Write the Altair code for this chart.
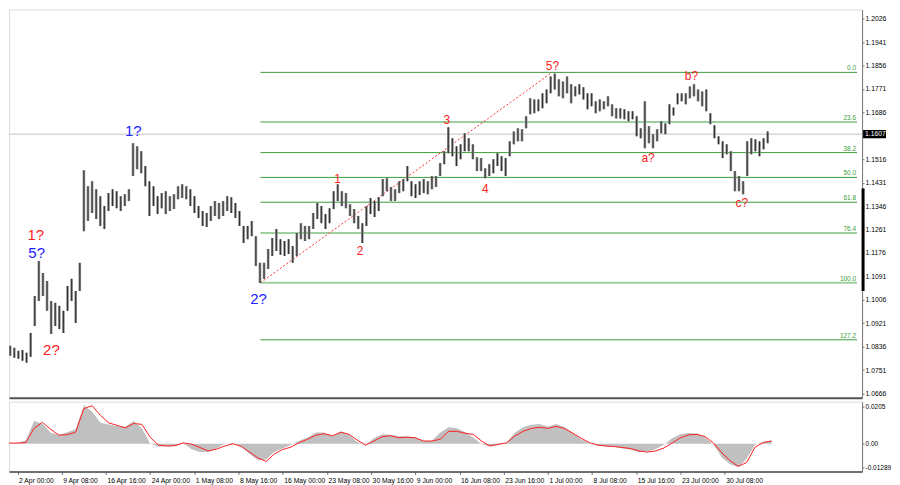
import altair as alt
import pandas as pd

# ---------------- price bars: one bar per 3 H4 candles (high / low) ----------------
BAR_STEP = 3
bar_high = [
    1.0846, 1.0839, 1.0832, 1.0821, 1.0824, 1.0814, 1.0886, 1.1020, 1.1147, 1.1103,
    1.1074, 1.1002, 1.0995, 1.0984, 1.0966, 1.1056, 1.1082, 1.1038, 1.1140, 1.1476,
    1.1418, 1.1436, 1.1407, 1.1382, 1.1346, 1.1393, 1.1407, 1.1400, 1.1382, 1.1389,
    1.1407, 1.1574, 1.1563, 1.1545, 1.1491, 1.1436, 1.1418, 1.1382, 1.1393, 1.1400,
    1.1382, 1.1389, 1.1418, 1.1425, 1.1418, 1.1407, 1.1382, 1.1346, 1.1328, 1.1321,
    1.1346, 1.1364, 1.1357, 1.1364, 1.1382, 1.1378, 1.1357, 1.1328, 1.1274, 1.1274,
    1.1292, 1.1237, 1.1140, 1.1140, 1.1190, 1.1230, 1.1263, 1.1226, 1.1219, 1.1226,
    1.1201, 1.1248, 1.1284, 1.1274, 1.1274, 1.1321, 1.1357, 1.1346, 1.1317, 1.1338,
    1.1400, 1.1425, 1.1400, 1.1393, 1.1353, 1.1335, 1.1310, 1.1284, 1.1346, 1.1375,
    1.1364, 1.1378, 1.1444, 1.1447, 1.1415, 1.1407, 1.1436, 1.1444, 1.1491, 1.1436,
    1.1425, 1.1436, 1.1444, 1.1436, 1.1455, 1.1455, 1.1502, 1.1545, 1.1632, 1.1592,
    1.1563, 1.1570, 1.1610, 1.1592, 1.1570, 1.1523, 1.1520, 1.1483, 1.1498, 1.1516,
    1.1538, 1.1527, 1.1520, 1.1581, 1.1617, 1.1628, 1.1625, 1.1672, 1.1737, 1.1733,
    1.1733, 1.1755, 1.1769, 1.1816, 1.1827, 1.1806, 1.1798, 1.1816, 1.1788, 1.1780,
    1.1788, 1.1777, 1.1755, 1.1755, 1.1726, 1.1733, 1.1726, 1.1744, 1.1715, 1.1701,
    1.1701, 1.1697, 1.1690, 1.1690, 1.1672, 1.1628, 1.1726, 1.1636, 1.1607, 1.1625,
    1.1654, 1.1646, 1.1715, 1.1704, 1.1755, 1.1755, 1.1755, 1.1780, 1.1788, 1.1769,
    1.1762, 1.1769, 1.1683, 1.1639, 1.1599, 1.1581, 1.1570, 1.1545, 1.1473, 1.1455,
    1.1436, 1.1581, 1.1592, 1.1588, 1.1581, 1.1592, 1.1617,
]
bar_low = [
    1.0814, 1.0803, 1.0796, 1.0792, 1.0785, 1.0778, 1.0799, 1.0911, 1.1002, 1.1020,
    1.0966, 1.0882, 1.0911, 1.0900, 1.0886, 1.0966, 1.1002, 1.0922, 1.1038, 1.1255,
    1.1292, 1.1321, 1.1299, 1.1274, 1.1263, 1.1328, 1.1346, 1.1338, 1.1328, 1.1346,
    1.1364, 1.1455, 1.1480, 1.1465, 1.1418, 1.1310, 1.1346, 1.1317, 1.1338, 1.1317,
    1.1328, 1.1335, 1.1371, 1.1375, 1.1371, 1.1346, 1.1321, 1.1303, 1.1274, 1.1270,
    1.1292, 1.1310, 1.1299, 1.1310, 1.1328, 1.1321, 1.1303, 1.1274, 1.1212, 1.1226,
    1.1237, 1.1129, 1.1067, 1.1082, 1.1118, 1.1165, 1.1183, 1.1169, 1.1165, 1.1172,
    1.1140, 1.1165, 1.1226, 1.1219, 1.1226, 1.1263, 1.1299, 1.1284, 1.1263, 1.1284,
    1.1335, 1.1364, 1.1346, 1.1338, 1.1310, 1.1284, 1.1263, 1.1212, 1.1274, 1.1317,
    1.1306, 1.1328, 1.1382, 1.1400, 1.1364, 1.1364, 1.1393, 1.1400, 1.1436, 1.1382,
    1.1375, 1.1386, 1.1393, 1.1389, 1.1407, 1.1415, 1.1455, 1.1498, 1.1538, 1.1527,
    1.1491, 1.1516, 1.1545, 1.1545, 1.1516, 1.1473, 1.1473, 1.1447, 1.1455, 1.1465,
    1.1491, 1.1473, 1.1455, 1.1527, 1.1570, 1.1581, 1.1581, 1.1628, 1.1679, 1.1683,
    1.1690, 1.1701, 1.1719, 1.1755, 1.1769, 1.1744, 1.1737, 1.1755, 1.1719, 1.1744,
    1.1751, 1.1733, 1.1697, 1.1708, 1.1683, 1.1690, 1.1697, 1.1708, 1.1672, 1.1664,
    1.1664, 1.1661, 1.1654, 1.1661, 1.1599, 1.1592, 1.1556, 1.1574, 1.1556, 1.1581,
    1.1610, 1.1607, 1.1643, 1.1675, 1.1715, 1.1726, 1.1715, 1.1737, 1.1744, 1.1726,
    1.1708, 1.1690, 1.1643, 1.1592, 1.1570, 1.1520, 1.1534, 1.1473, 1.1400, 1.1400,
    1.1389, 1.1455, 1.1534, 1.1545, 1.1527, 1.1552, 1.1574,
]

# ---------------- oscillator (MACD-like): one sample per 6 H4 candles ----------------
OSC_STEP = 6
osc_hist = [
    0.0000, 0.0003, 0.0005, 0.0020, 0.0125, 0.0110, 0.0060, 0.0050, 0.0063, 0.0080,
    0.0210, 0.0175, 0.0115, 0.0105, 0.0097, 0.0093, 0.0125, 0.0085, 0.0000, -0.0014,
    -0.0014, -0.0012, 0.0003, -0.0030, -0.0045, -0.0045, -0.0025, 0.0000, 0.0005, -0.0015,
    -0.0055, -0.0090, -0.0085, -0.0043, -0.0025, -0.0005, 0.0017, 0.0035, 0.0062, 0.0062,
    0.0041, 0.0068, 0.0050, 0.0010, -0.0005, 0.0030, 0.0052, 0.0050, 0.0041, 0.0041,
    0.0035, 0.0015, 0.0018, 0.0060, 0.0090, 0.0085, 0.0065, 0.0035, -0.0003, -0.0015,
    -0.0008, 0.0005, 0.0060, 0.0090, 0.0104, 0.0108, 0.0095, 0.0108, 0.0090, 0.0060,
    0.0025, 0.0004, -0.0010, -0.0014, -0.0016, -0.0025, -0.0033, -0.0045, -0.0042, -0.0030,
    -0.0005, 0.0030, 0.0054, 0.0059, 0.0056, 0.0035, -0.0005, -0.0075, -0.0112, -0.0128,
    -0.0080, -0.0005, 0.0011, 0.0019,
]
osc_signal = [
    -0.0012, 0.0004, 0.0004, 0.0007, 0.0085, 0.0117, 0.0079, 0.0047, 0.0050, 0.0063,
    0.0192, 0.0208, 0.0155, 0.0114, 0.0101, 0.0087, 0.0111, 0.0106, 0.0036, -0.0007,
    -0.0012, -0.0010, 0.0005, -0.0002, -0.0020, -0.0039, -0.0029, -0.0012, 0.0000, -0.0015,
    -0.0045, -0.0077, -0.0096, -0.0055, -0.0031, -0.0018, 0.0007, 0.0025, 0.0047, 0.0055,
    0.0044, 0.0063, 0.0052, 0.0020, -0.0007, 0.0015, 0.0039, 0.0044, 0.0033, 0.0036,
    0.0033, 0.0015, 0.0015, 0.0025, 0.0068, 0.0068, 0.0058, 0.0051, 0.0015, -0.0012,
    -0.0002, 0.0005, 0.0042, 0.0068, 0.0084, 0.0090, 0.0084, 0.0095, 0.0084, 0.0058,
    0.0031, 0.0007, -0.0007, -0.0012, -0.0015, -0.0020, -0.0026, -0.0039, -0.0045, -0.0039,
    -0.0023, 0.0004, 0.0033, 0.0049, 0.0051, 0.0039, 0.0004, -0.0050, -0.0093, -0.0123,
    -0.0101, -0.0018, 0.0007, 0.0015,
]

# ---------------- axes ----------------
price_ticks = [1.0666, 1.0751, 1.0836, 1.0921, 1.1006, 1.1091, 1.1176, 1.1261, 1.1346,
               1.1431, 1.1516, 1.1686, 1.1771, 1.1856, 1.1941, 1.2026]
last_price = 1.1607
osc_ticks = [0.0205, 0.0, -0.01289]
osc_tick_labels = ["0.0205", "0.00", "-0.01289"]
date_labels = ["2 Apr 00:00", "9 Apr 08:00", "16 Apr 16:00", "24 Apr 00:00", "1 May 08:00",
               "8 May 16:00", "16 May 00:00", "23 May 08:00", "30 May 16:00", "9 Jun 00:00",
               "16 Jun 08:00", "23 Jun 16:00", "1 Jul 00:00", "8 Jul 08:00", "15 Jul 16:00",
               "23 Jul 00:00", "30 Jul 08:00"]
DATE_FIRST, DATE_STEP = 12, 32
X_MIN, X_MAX = 5.78, 623.5
Y_MIN, Y_MAX = 1.0651, 1.2059
O_MIN, O_MAX = -0.0151, 0.0230

# ---------------- Fibonacci grid ----------------
fib_names = ["0.0", "23.6", "38.2", "50.0", "61.8", "76.4", "100.0", "127.2"]
fib_prices = [1.1831, 1.1651, 1.1540, 1.1450, 1.1360, 1.1248, 1.1068, 1.0861]
fib_start = 186.4
fib_colors = ["#3a9e3a", "#3a9e3a", "#3a9e3a", "#3a9e3a", "#3a9e3a", "#9fd19f", "#9fd19f", "#3a9e3a"]
fib_widths = [1, 1, 1, 1, 1, 2, 2, 1]
trend_idx = [186.4, 400.0]
trend_price = [1.1068, 1.1831]

# ---------------- wave labels ----------------
wave_text = ["1?", "5?", "2?", "1?", "2?", "1", "2", "3", "4", "5?", "a?", "b?", "c?"]
wave_idx = [21.7, 22.4, 33.2, 93.2, 185.0, 242.8, 259.4, 323.0, 351.2, 400.3, 470.4, 502.2, 539.0]
wave_price = [1.1241, 1.1174, 1.0825, 1.1617, 1.1009, 1.1444, 1.1183, 1.1657, 1.1407,
              1.1853, 1.1520, 1.1817, 1.1357]
wave_color = ["#ff2222", "#2222ff", "#ff2222", "#2222ff", "#2222ff", "#ff2222", "#ff2222",
              "#ff2222", "#ff2222", "#ff2222", "#ff2222", "#ff2222", "#ff2222"]
wave_size = [15, 15, 15, 15, 15, 12, 12, 12, 12, 12, 12, 12, 12]

FONT = "Liberation Sans"
W, H_MAIN, H_OSC = 855, 389, 70

bars = pd.DataFrame({"idx": [i * BAR_STEP for i in range(len(bar_high))],
                     "high": bar_high, "low": bar_low})
osc = pd.DataFrame({"idx": [i * OSC_STEP for i in range(len(osc_hist))],
                    "hist": osc_hist, "signal": osc_signal})
fib = pd.DataFrame({"name": fib_names, "price": fib_prices, "start": fib_start,
                    "end": X_MAX, "color": fib_colors, "w": fib_widths})
trend = pd.DataFrame({"idx": trend_idx, "price": trend_price})
waves = pd.DataFrame({"text": wave_text, "idx": wave_idx, "price": wave_price,
                      "color": wave_color, "size": wave_size})

xs = alt.Scale(domain=[X_MIN, X_MAX], nice=False, zero=False)
ys = alt.Scale(domain=[Y_MIN, Y_MAX], nice=False, zero=False)
os_ = alt.Scale(domain=[O_MIN, O_MAX], nice=False, zero=False)

x_main_axis = alt.Axis(labels=False, ticks=False, domain=True, domainColor="#555555",
                       domainWidth=2, grid=False, title=None)
y_main_axis = alt.Axis(orient="right", values=price_ticks, format=".4f", grid=False, title=None,
                       labelFont=FONT, labelFontSize=6.8, labelColor="#000000", tickSize=2,
                       tickColor="#777777", domainColor="#777777", labelPadding=1)

X = lambda f: alt.X(f, type="quantitative", scale=xs, axis=x_main_axis)
Y = lambda f: alt.Y(f, type="quantitative", scale=ys, axis=y_main_axis)

last_line = alt.Chart(pd.DataFrame({"p": [last_price]})).mark_rule(
    color="#c4c4c4", strokeWidth=1).encode(y=Y("p"))

fib_rules = alt.Chart(fib).mark_rule().encode(
    x=X("start"), x2="end", y=Y("price"),
    color=alt.Color("color:N", scale=None), strokeWidth=alt.StrokeWidth("w:Q", scale=None))

fib_text = alt.Chart(fib).mark_text(align="right", baseline="bottom", dx=-1, dy=-1,
                                    font=FONT, fontSize=6.5, color="#3a9e3a").encode(
    x=X("end"), y=Y("price"), text="name:N")

trend_line = alt.Chart(trend).mark_line(color="#ff3030", strokeWidth=1, strokeDash=[2, 2]).encode(
    x=X("idx"), y=Y("price"))

bar_body = alt.Chart(bars).mark_bar(color="#8e8e8e", size=2.6, clip=True).encode(
    x=X("idx"), y=Y("low"), y2="high")
bar_marks = alt.Chart(bars).mark_rule(color="#2e2e2e", strokeWidth=1.0, clip=True).encode(
    x=X("idx"), y=Y("low"), y2="high")

wave_marks = alt.Chart(waves).mark_text(font=FONT, baseline="middle", align="center").encode(
    x=X("idx"), y=Y("price"), text="text:N",
    color=alt.Color("color:N", scale=None), size=alt.Size("size:Q", scale=None))

scroll_bar = alt.Chart(pd.DataFrame({"a": [1.1410], "b": [1.1038]})).mark_rule(
    color="#000000", strokeWidth=3).encode(x=alt.value(W + 1), y=Y("a"), y2="b")

price_box = alt.Chart(pd.DataFrame({"top": [1.1622], "bot": [1.1592]})).mark_rect(
    color="#000000").encode(x=alt.value(W + 1), x2=alt.value(W + 24), y=Y("top"), y2="bot")
price_txt = alt.Chart(pd.DataFrame({"p": [last_price], "t": ["1.1607"]})).mark_text(
    align="left", baseline="middle", font=FONT, fontSize=6.8, color="#ffffff").encode(
    x=alt.value(W + 3), y=Y("p"), text="t:N")

main = alt.layer(last_line, fib_rules, fib_text, trend_line, bar_body, bar_marks, wave_marks,
                 scroll_bar, price_box, price_txt).properties(width=W, height=H_MAIN)

label_expr = "[" + ",".join("'%s'" % s for s in date_labels) + "][round((datum.value - %d) / %d)]" % (DATE_FIRST, DATE_STEP)
x_osc_axis = alt.Axis(values=[DATE_FIRST + DATE_STEP * i for i in range(len(date_labels))],
                      labelExpr=label_expr, labelAlign="left", labelOffset=1, labelFont=FONT,
                      labelFontSize=6.8, labelColor="#000000", tickSize=3, tickColor="#777777",
                      domainColor="#444444", domainWidth=1.5, grid=False, title=None, labelPadding=3)
osc_expr = " : ".join("datum.value == %s ? '%s'" % (v, s) for v, s in zip(osc_ticks, osc_tick_labels)) + " : ''"
y_osc_axis = alt.Axis(orient="right", values=osc_ticks, labelExpr=osc_expr, grid=False, title=None,
                      labelFont=FONT, labelFontSize=6.5, labelColor="#000000", tickSize=2,
                      tickColor="#777777", domainColor="#777777", labelPadding=1)

hist_area = alt.Chart(osc).mark_area(color="#c0c0c0", clip=True).encode(
    x=alt.X("idx:Q", scale=xs, axis=x_osc_axis),
    y=alt.Y("hist:Q", scale=os_, axis=y_osc_axis), y2=alt.datum(0))
sig_line = alt.Chart(osc).mark_line(color="#ff2020", strokeWidth=1, clip=True).encode(
    x=alt.X("idx:Q", scale=xs, axis=x_osc_axis),
    y=alt.Y("signal:Q", scale=os_, axis=y_osc_axis))

osc_chart = alt.layer(hist_area, sig_line).properties(width=W, height=H_OSC)

chart = alt.vconcat(main, osc_chart, spacing=2, padding=0).configure_view(stroke=None).configure(
    background="#ffffff")

chart.save("out.html", embed_options={"renderer": "svg", "actions": False})
